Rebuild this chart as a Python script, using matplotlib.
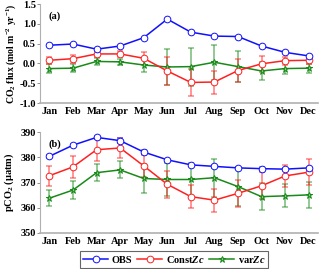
import matplotlib
matplotlib.use("Agg")
import matplotlib.pyplot as plt
import numpy as np

months = ["Jan", "Feb", "Mar", "Apr", "May", "Jun", "Jul", "Aug", "Sep", "Oct", "Nov", "Dec"]

flux_obs = [0.46, 0.49, 0.36, 0.44, 0.65, 1.12, 0.79, 0.69, 0.68, 0.44, 0.28, 0.19]
flux_const = [0.08, 0.12, 0.24, 0.24, 0.13, -0.19, -0.48, -0.47, -0.18, -0.01, 0.07, 0.08]
flux_const_err = [0.09, 0.10, 0.08, 0.08, 0.16, 0.35, 0.35, 0.29, 0.28, 0.20, 0.10, 0.10]
flux_var = [-0.13, -0.12, 0.05, 0.04, -0.04, -0.09, -0.08, 0.03, -0.08, -0.19, -0.13, -0.12]
flux_var_err = [0.11, 0.10, 0.08, 0.08, 0.18, 0.46, 0.48, 0.44, 0.39, 0.23, 0.14, 0.11]

pco2_obs = [380.4, 384.8, 387.9, 386.6, 382.1, 379.0, 377.0, 376.4, 375.8, 375.5, 375.3, 375.8]
pco2_obs_err = [0.5, 0.5, 0.6, 1.0, 0.6, 0.5, 0.5, 0.5, 0.5, 0.5, 0.5, 0.5]
pco2_const = [372.7, 376.2, 383.0, 383.7, 376.6, 369.3, 364.4, 363.0, 365.7, 368.7, 372.6, 374.1]
pco2_const_err = [3.9, 4.5, 4.5, 4.1, 4.5, 5.4, 4.6, 4.6, 5.4, 5.4, 4.3, 5.1]
pco2_var = [363.8, 367.0, 373.9, 375.0, 371.6, 371.2, 371.2, 371.9, 368.4, 364.4, 364.7, 365.1]
pco2_var_err = [3.3, 3.6, 3.3, 3.4, 5.6, 6.6, 6.6, 7.5, 7.6, 5.4, 4.6, 5.3]

plt.rcParams['font.family'] = ['Liberation Serif', 'DejaVu Serif']
plt.rcParams['font.weight'] = 'bold'
plt.rcParams['mathtext.fontset'] = 'custom'
plt.rcParams['mathtext.rm'] = 'Liberation Serif:bold'
plt.rcParams['mathtext.bf'] = 'Liberation Serif:bold'
plt.rcParams['mathtext.it'] = 'Liberation Serif:bold:italic'
plt.rcParams['mathtext.default'] = 'rm'

fig = plt.figure(figsize=(3.2, 2.69), dpi=100)
ax1 = fig.add_axes([0.125, 0.617, 0.869, 0.368])
ax2 = fig.add_axes([0.125, 0.134, 0.869, 0.375])

x = np.arange(1, 13)
blue = '#1010ff'
red = '#ff2020'
green = '#188a18'

def style(ax):
    for s in ['top', 'right']:
        ax.spines[s].set_visible(False)
    ax.spines['bottom'].set_color('#b0b0b0')
    ax.spines['bottom'].set_linewidth(1.2)
    ax.spines['left'].set_color('#b0b0b0')
    ax.spines['left'].set_linewidth(0.8)
    ax.set_xlim(0.6, 12.4)
    ax.set_xticks(x)
    ax.set_xticklabels(months, fontsize=7.5, fontweight='bold')
    ax.tick_params(axis='x', length=0, pad=3)
    ax.tick_params(axis='y', labelsize=7.5, length=2, width=0.6, pad=1, color='#808080')
    for t in ax.get_yticklabels():
        t.set_fontweight('bold')

def series(ax, y, err, color, marker, label):
    if err is not None:
        ax.errorbar(x, y, yerr=err, fmt='none', ecolor=color, elinewidth=1.2,
                    capsize=2.5, capthick=1.1, alpha=0.55, zorder=2)
    if marker == 'o':
        ax.plot(x, y, color=color, lw=1.1, marker='o', ms=4.8,
                mfc='white', mec=color, mew=0.7, label=label, zorder=3)
    else:
        ax.plot(x, y, color=color, lw=1.1, marker='*', ms=5,
                mfc='#8cc88c', mec=color, mew=0.7, label=label, zorder=3)

series(ax1, flux_var, flux_var_err, green, '*', 'varZc')
series(ax1, flux_const, flux_const_err, red, 'o', 'ConstZc')
series(ax1, flux_obs, None, blue, 'o', 'OBS')
ax1.set_ylim(-1.0, 1.5)
ax1.set_yticks([-1.0, -0.5, 0.0, 0.5, 1.0, 1.5])
ax1.set_yticklabels(['-1.0', '-0.5', '0.0', '0.5', '1.0', '1.5'])
style(ax1)
ax1.set_ylabel('CO$_2$ flux (mol m$^{-2}$ yr$^{-1}$)', fontsize=7, fontweight='bold', labelpad=1)
ax1.text(0.03, 0.93, '(a)', transform=ax1.transAxes, fontsize=7.5, fontweight='bold', va='top')

series(ax2, pco2_var, pco2_var_err, green, '*', 'var$\\mathit{Zc}$')
series(ax2, pco2_const, pco2_const_err, red, 'o', 'Const$\\mathit{Zc}$')
series(ax2, pco2_obs, pco2_obs_err, blue, 'o', 'OBS')
ax2.set_ylim(350, 390)
ax2.set_yticks([350, 360, 370, 380, 390])
style(ax2)
ax2.set_ylabel('pCO$_2$ ($\\mu$atm)', fontsize=7.5, fontweight='bold', labelpad=3)
ax2.text(0.03, 0.93, '(b)', transform=ax2.transAxes, fontsize=7.5, fontweight='bold', va='top')

h, l = ax2.get_legend_handles_labels()
order = [2, 1, 0]
leg = fig.legend([h[i] for i in order], [l[i] for i in order], loc='center',
                 bbox_to_anchor=(0.545, 0.035), ncol=3, fontsize=7.5, frameon=True,
                 fancybox=False, edgecolor='#404040', handlelength=2.4,
                 columnspacing=0.5, handletextpad=0.3, borderpad=0.3)
leg.get_frame().set_linewidth(0.8)

fig.savefig('out.png', dpi=100)
